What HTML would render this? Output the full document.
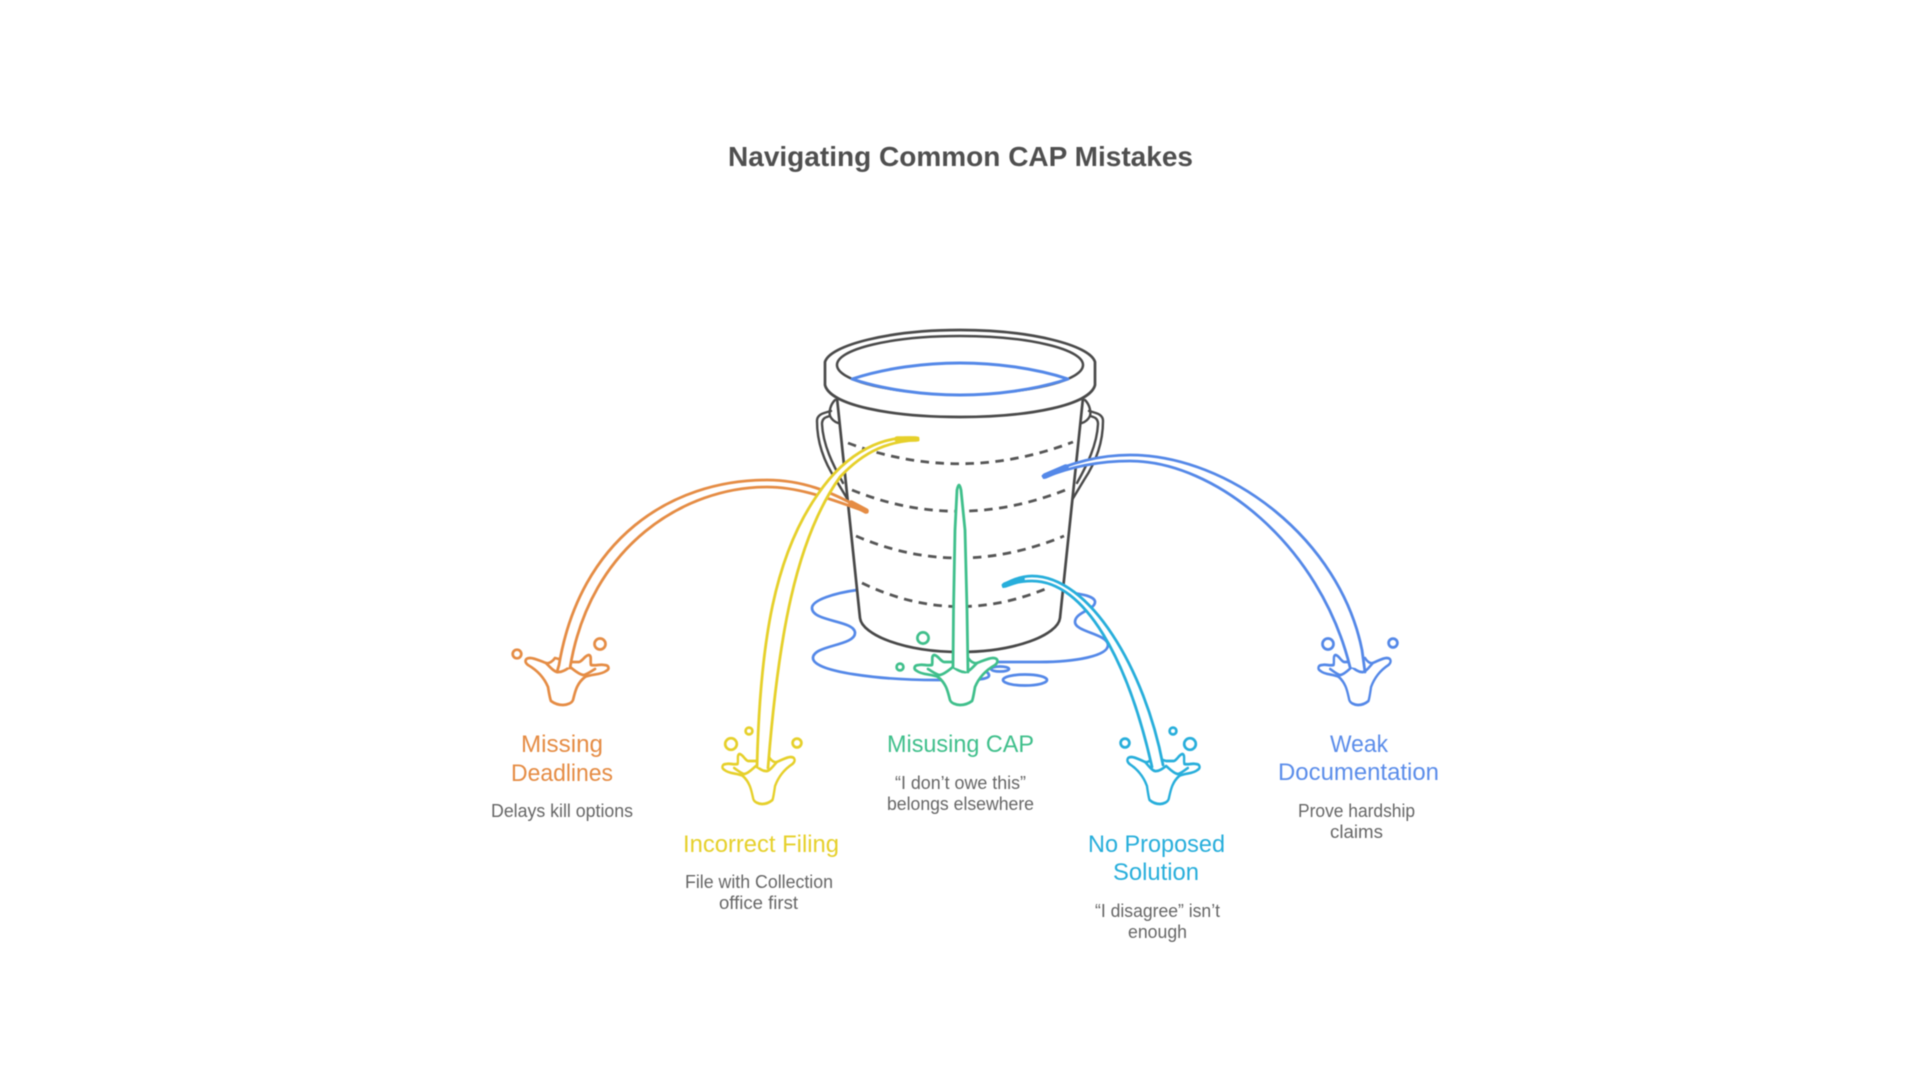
<!DOCTYPE html>
<html><head><meta charset="utf-8"><style>
html,body{margin:0;padding:0;background:#fff;width:1920px;height:1080px;overflow:hidden}
svg{display:block;filter:blur(0.45px)}
text{font-family:"Liberation Sans",Arial,sans-serif}
.l{font-size:24px}.d{font-size:18px;fill:#666}
.s{fill:none;stroke-width:2.8;stroke-linecap:round;stroke-linejoin:round}
.t{fill:none;stroke-width:5.6;stroke-linecap:round}
.f{stroke:none;fill:#fff}
.sp{fill:#fff;stroke-width:2.7;stroke-linejoin:round;stroke-linecap:round}
.sp path{vector-effect:non-scaling-stroke}
circle{stroke-width:2.7}
</style></head><body>
<svg width="1920" height="1080" viewBox="0 0 1920 1080" xmlns="http://www.w3.org/2000/svg">
<defs>
<g id="sp">
<path d="M-41,-40 C-37,-41 -33,-39 -28,-40 C-27,-44 -29,-49 -26,-50 C-22,-50 -20,-44 -16,-43 L-7,-43 L8,-47 C10,-44 14,-41 17,-42 C23,-44 28,-47 33,-47 C38,-47 39,-43 35,-40 C28,-36 20,-30 15,-18 C14,-12 13,-6 12,-4 C8,-1 4,0 0,0 C-4,0 -9,-2 -10,-5 C-12,-12 -13,-21 -22,-28 C-28,-31 -38,-30 -43,-34 C-47,-36 -46,-40 -41,-40 Z"/>
<path fill="none" d="M-32,-36 C-27,-33 -23,-30 -20,-30 C-15,-31 -10,-36 -7,-38 C-4,-36 0,-33 4,-33 C8,-32 13,-38 17,-42"/>
</g>
</defs>
<rect width="1920" height="1080" fill="#fff"/>

<text x="728" y="166" font-size="28" font-weight="700" fill="#4f4f4f" textLength="465" lengthAdjust="spacingAndGlyphs">Navigating Common CAP Mistakes</text>

<!-- puddle -->
<g fill="none" stroke="#5488e8" stroke-width="2.7" stroke-linecap="round">
<path d="M857,590 C835,593 812,600 812,608 C812,622 855,620 855,633 C855,646 813,645 813,658 C813,672 880,680 937,680 L958,680"/>
<path d="M965,680 Q990,680 989,675 Q988,671 980,670"/>
<path d="M993,662 L1040,662 C1075,662 1108,656 1108,645 C1108,634 1075,632 1075,622 C1075,612 1095,610 1095,602 C1095,596 1080,594 1073,593"/>
<ellipse cx="1025" cy="680" rx="22" ry="5.5"/>
<ellipse cx="1000" cy="669" rx="9" ry="2.5"/>
</g>

<!-- handles -->
<g stroke="#4a4a4a">
<g>
<path class="s" style="stroke-width:2.4" d="M831,411 C824,413 817,414 817,421 C817,445 826,465 836,480 L848,500"/>
<path class="s" style="stroke-width:2.4" d="M830,416 C826,417 822,418 822,424 C823,445 833,465 843,483"/>
<path class="s" style="stroke-width:2.4" d="M835,400 C830,405 829,412 830,416 C832,420 835,422 838,423"/>
</g>
<g transform="translate(1920,0) scale(-1,1)">
<path class="s" style="stroke-width:2.4" d="M831,411 C824,413 817,414 817,421 C817,445 826,465 836,480 L848,500"/>
<path class="s" style="stroke-width:2.4" d="M830,416 C826,417 822,418 822,424 C823,445 833,465 843,483"/>
<path class="s" style="stroke-width:2.4" d="M835,400 C830,405 829,412 830,416 C832,420 835,422 838,423"/>
</g>
</g>

<!-- bucket body -->
<path d="M837,398 L860,618 C862,635 905,652 960,652 C1015,652 1058,635 1060,618 L1083,398 Z" fill="#fff" stroke="#484848" stroke-width="2.7" stroke-linejoin="round"/>
<g fill="none" stroke="#555" stroke-width="2.8" stroke-dasharray="8.5 6.5">
<path d="M848,443 Q960,485 1073,442"/>
<path d="M852,490 Q958,533 1068,489"/>
<path d="M856,536 Q958,580 1064,536"/>
<path d="M862,583 Q955,628 1050,587"/>
</g>
<!-- rim -->
<path d="M825,362 C830,345 890,330 960,330 C1030,330 1090,345 1095,362 L1095,385 C1090,405 1030,417 960,417 C890,417 830,405 825,385 Z" fill="#fff" stroke="#4a4a4a" stroke-width="2.7"/>
<ellipse cx="960" cy="365" rx="123" ry="29" fill="#fff" stroke="#4a4a4a" stroke-width="2.5"/>
<path d="M852,379 C885,368 925,363 960,363 C995,363 1035,368 1068,379 C1035,390 995,395 960,395 C925,395 885,390 852,379 Z" fill="#fff" stroke="#5488e8" stroke-width="3" stroke-linejoin="round"/>

<!-- orange -->
<g stroke="#e58c44" fill="none">
<circle cx="517" cy="654" r="4.3"/><circle cx="600" cy="644" r="5.5"/>
<use href="#sp" class="sp" transform="translate(563,705) scale(-1,1)"/>
<path class="f" d="M867,512 C830,490 800,480 767,480 C670,480 580,540 559,665 L570,668 C590,545 685,487 767,487 C800,487 830,499 867,512 Z"/>
<path class="s" d="M867,512 C830,490 800,480 767,480 C670,480 580,540 559,665 L557,672"/>
<path class="s" d="M867,512 C830,499 800,487 767,487 C685,487 590,545 570,668"/>
<path class="t" d="M866,511 L851,503"/>
</g>
<!-- yellow -->
<g stroke="#e6d02a" fill="none">
<circle cx="731" cy="744" r="5.8"/><circle cx="749" cy="731" r="3.4"/><circle cx="797" cy="743" r="4.4"/>
<use href="#sp" class="sp" transform="translate(762,804) scale(.87,1)"/>
<path class="f" d="M918,438 C885,435 848,450 818,494 C775,555 760,640 757,767 L768,768 C778,640 795,540 840,477 C865,450 890,441 918,440 Z"/>
<path class="s" d="M918,440 L918,438 C885,435 848,450 818,494 C775,555 760,640 757,767"/>
<path class="s" d="M918,440 C890,441 865,450 840,477 C795,540 778,640 768,768"/>
<path class="t" d="M916,439 L897,439"/>
</g>
<!-- blue -->
<g stroke="#5488e8" fill="none">
<circle cx="1328" cy="644" r="5.5"/><circle cx="1393" cy="643" r="4.4"/>
<use href="#sp" class="sp" transform="translate(1358,705) scale(.87,1)"/>
<path class="f" d="M1043,476 C1080,458 1110,455 1130,455 C1230,455 1340,540 1366,670 L1350,667 C1320,545 1215,461 1130,461 C1110,461 1080,463 1044,478 Z"/>
<path class="s" d="M1044,477.5 L1043,476 C1080,458 1110,455 1130,455 C1230,455 1340,540 1362,650 L1365,672"/>
<path class="s" d="M1044,477.5 C1080,463 1110,461 1130,461 C1215,461 1320,545 1350,667"/>
<path class="t" d="M1045,476 L1066,467"/>
</g>
<!-- green -->
<g stroke="#3fbf8b" fill="none">
<circle cx="923" cy="638" r="5.6"/><circle cx="900" cy="667" r="3.4"/>
<use href="#sp" class="sp" transform="translate(960,705)"/>
<path class="f" d="M957,490 L955,530 L953.5,610 L953,667 L968,672 L967,610 L965,530 L961,490 Z"/>
<path class="s" d="M953,667 L953.5,610 L955,530 L957,490 Q959,480 961,490 L965,530 L967,610 L968,672"/>
</g>
<!-- cyan -->
<g stroke="#27aedb" fill="none">
<circle cx="1125" cy="743" r="4.4"/><circle cx="1173" cy="731" r="3.4"/><circle cx="1190" cy="744" r="5.8"/>
<use href="#sp" class="sp" transform="translate(1160,804) scale(-.87,1)"/>
<path class="f" d="M1003,585 C1015,578 1025,576 1032,576 C1090,576 1145,670 1163,765 L1152,767 C1128,660 1085,581 1032,581 C1025,581 1015,582 1004,586.5 Z"/>
<path class="s" d="M1003.5,586.5 L1003,585 C1015,578 1025,576 1032,576 C1090,576 1145,670 1163,765"/>
<path class="s" d="M1003.5,586.5 C1015,582 1025,581 1032,581 C1085,581 1128,660 1152,767"/>
<path class="t" d="M1005,585 L1022,579"/>
</g>

<!-- labels -->
<g class="l" fill="#e58c44">
<text x="521" y="752" textLength="82" lengthAdjust="spacingAndGlyphs">Missing</text>
<text x="511" y="781" textLength="102" lengthAdjust="spacingAndGlyphs">Deadlines</text>
</g>
<text class="d" x="491" y="817" textLength="142" lengthAdjust="spacingAndGlyphs">Delays kill options</text>

<text class="l" fill="#e6d02a" x="683" y="852" textLength="156" lengthAdjust="spacingAndGlyphs">Incorrect Filing</text>
<text class="d" x="685" y="888" textLength="148" lengthAdjust="spacingAndGlyphs">File with Collection</text>
<text class="d" x="719" y="909" textLength="79" lengthAdjust="spacingAndGlyphs">office first</text>

<text class="l" fill="#3fbf8b" x="887" y="752" textLength="147" lengthAdjust="spacingAndGlyphs">Misusing CAP</text>
<text class="d" x="895" y="789" textLength="131" lengthAdjust="spacingAndGlyphs">“I don’t owe this”</text>
<text class="d" x="887" y="810" textLength="147" lengthAdjust="spacingAndGlyphs">belongs elsewhere</text>

<text class="l" fill="#27aedb" x="1088" y="852" textLength="137" lengthAdjust="spacingAndGlyphs">No Proposed</text>
<text class="l" fill="#27aedb" x="1113" y="880" textLength="86" lengthAdjust="spacingAndGlyphs">Solution</text>
<text class="d" x="1095" y="917" textLength="125" lengthAdjust="spacingAndGlyphs">“I disagree” isn’t</text>
<text class="d" x="1128" y="938" textLength="59" lengthAdjust="spacingAndGlyphs">enough</text>

<text class="l" fill="#5b8dea" x="1330" y="752" textLength="58" lengthAdjust="spacingAndGlyphs">Weak</text>
<text class="l" fill="#5b8dea" x="1278" y="780" textLength="161" lengthAdjust="spacingAndGlyphs">Documentation</text>
<text class="d" x="1298" y="817" textLength="117" lengthAdjust="spacingAndGlyphs">Prove hardship</text>
<text class="d" x="1330" y="838" textLength="53" lengthAdjust="spacingAndGlyphs">claims</text>
</svg>
</body></html>
